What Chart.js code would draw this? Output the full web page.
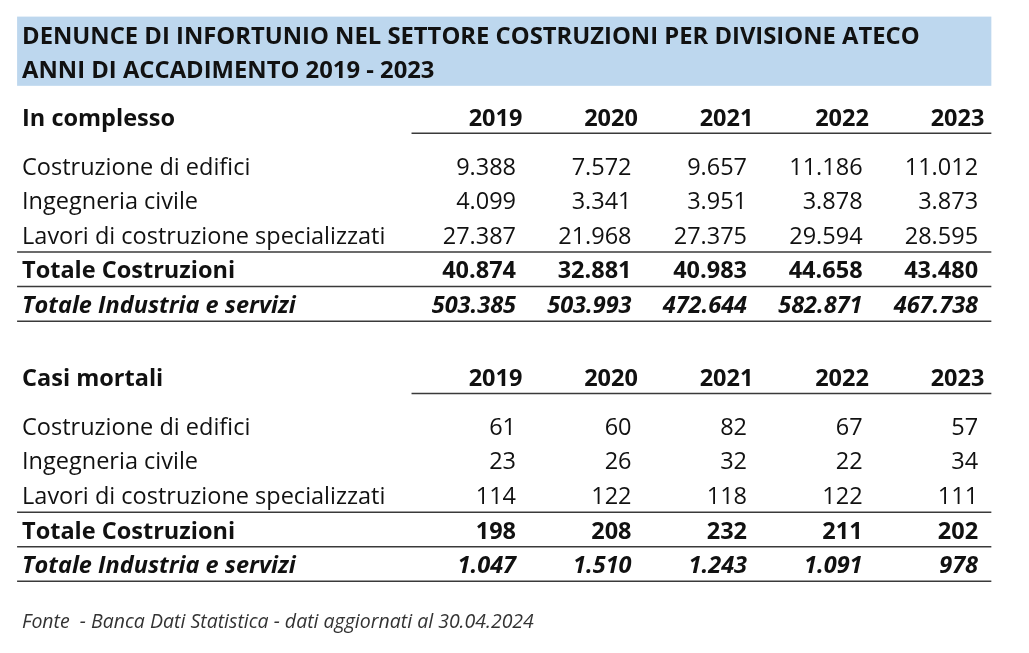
<!DOCTYPE html>
<html lang="it">
<head>
<meta charset="utf-8">
<title>Denunce di infortunio - costruzioni</title>
<script src="https://cdn.jsdelivr.net/npm/chart.js@4.4.0/dist/chart.umd.min.js"></script>
<style>
  body { margin: 0; background: #ffffff; }
  #wrap { width: 1029px; height: 653px; }
</style>
</head>
<body>
<div id="wrap"><canvas id="tabella" width="1029" height="653"></canvas></div>
<script>
const titleLines = ['DENUNCE DI INFORTUNIO NEL SETTORE COSTRUZIONI PER DIVISIONE ATECO', 'ANNI DI ACCADIMENTO 2019 - 2023'];
const years = ['2019', '2020', '2021', '2022', '2023'];
const sections = ['In complesso', 'Casi mortali'];
const rowLabels = ['Costruzione di edifici', 'Ingegneria civile', 'Lavori di costruzione specializzati', 'Totale Costruzioni', 'Totale Industria e servizi'];
const fonte = 'Fonte  - Banca Dati Statistica - dati aggiornati al 30.04.2024';

const complessoEdifici = [9388, 7572, 9657, 11186, 11012];
const complessoCivile = [4099, 3341, 3951, 3878, 3873];
const complessoSpecializzati = [27387, 21968, 27375, 29594, 28595];
const complessoTotCostruzioni = [40874, 32881, 40983, 44658, 43480];
const complessoTotIndustria = [503385, 503993, 472644, 582871, 467738];

const mortaliEdifici = [61, 60, 82, 67, 57];
const mortaliCivile = [23, 26, 32, 22, 34];
const mortaliSpecializzati = [114, 122, 118, 122, 111];
const mortaliTotCostruzioni = [198, 208, 232, 211, 202];
const mortaliTotIndustria = [1047, 1510, 1243, 1091, 978];

const sectionData = [
    [complessoEdifici, complessoCivile, complessoSpecializzati, complessoTotCostruzioni, complessoTotIndustria],
    [mortaliEdifici, mortaliCivile, mortaliSpecializzati, mortaliTotCostruzioni, mortaliTotIndustria]
];

// impaginazione: righe in "unità riga" sull'asse y, colonne sull'asse x
const SECTION_STEP = 7.52;
const HEADER_GAP = 1.4;
const FONT = '"Open Sans", "DejaVu Sans", sans-serif';
const SIZE = '23.5px ';
const TEXT_DY = 2.5; // il testo 'middle' di Open Sans sta un po' alto
const rowStyle = ['', '', '', 'bold ', 'italic bold '];

function rowSlot(s, r) {
    return s * SECTION_STEP + HEADER_GAP + r;
}

// formato italiano 9.388
function fmt(n) {
    return String(n).replace(/\B(?=(\d{3})+(?!\d))/g, '.');
}

// un dataset per riga, punti invisibili: il testo viene scritto sulla loro posizione
const datasets = [];
sectionData.forEach((rows, s) => {
    rows.forEach((values, r) => {
        datasets.push({
            label: sections[s] + ' - ' + rowLabels[r],
            data: values.map((v, j) => ({ x: j, y: rowSlot(s, r), v: v })),
            style: rowStyle[r],
            pointRadius: 0
        });
    });
});

function hline(ctx, x, y, x0, x1, v) {
    ctx.beginPath();
    ctx.moveTo(x.getPixelForValue(x0), y.getPixelForValue(v));
    ctx.lineTo(x.getPixelForValue(x1), y.getPixelForValue(v));
    ctx.stroke();
}

function text(ctx, str, px, py) {
    ctx.fillText(str, px, py + TEXT_DY);
}

const tablePlugin = {
    id: 'tablePlugin',
    beforeDatasetsDraw(chart) {
        const ctx = chart.ctx;
        const x = chart.scales.x;
        const y = chart.scales.y;
        const L = -4.32, R = 4.115, LABEL = -4.277;

        ctx.save();
        // fascia del titolo
        ctx.fillStyle = '#bdd7ee';
        const bTop = y.getPixelForValue(-2.9), bBot = y.getPixelForValue(-0.9);
        ctx.fillRect(x.getPixelForValue(L), bTop, x.getPixelForValue(R) - x.getPixelForValue(L), bBot - bTop);

        ctx.fillStyle = '#111111';
        ctx.textBaseline = 'middle';
        ctx.textAlign = 'left';
        ctx.font = 'bold 23.8px ' + FONT;
        text(ctx, titleLines[0], x.getPixelForValue(LABEL), y.getPixelForValue(-2.37));
        text(ctx, titleLines[1], x.getPixelForValue(LABEL), y.getPixelForValue(-1.39));

        ctx.strokeStyle = '#3a3a3a';
        ctx.lineWidth = 1.5;

        sections.forEach((name, s) => {
            const h = s * SECTION_STEP;
            ctx.fillStyle = '#111111';
            ctx.font = 'bold ' + SIZE + FONT;
            ctx.textAlign = 'left';
            text(ctx, name, x.getPixelForValue(LABEL), y.getPixelForValue(h));
            ctx.textAlign = 'right';
            years.forEach((yr, j) => {
                text(ctx, yr, x.getPixelForValue(j + 0.055), y.getPixelForValue(h));
            });
            hline(ctx, x, y, -0.905, R, h + 0.47);

            ctx.textAlign = 'left';
            rowLabels.forEach((lab, r) => {
                ctx.font = rowStyle[r] + SIZE + FONT;
                text(ctx, lab, x.getPixelForValue(LABEL), y.getPixelForValue(rowSlot(s, r)));
            });
            // linee sotto specializzati, totale costruzioni, totale industria
            [2, 3, 4].forEach(r => hline(ctx, x, y, L, R, rowSlot(s, r) + 0.5));
        });

        ctx.fillStyle = '#333333';
        ctx.textAlign = 'left';
        ctx.font = 'italic 19.5px ' + FONT;
        text(ctx, fonte, x.getPixelForValue(LABEL), y.getPixelForValue(14.54));
        ctx.restore();
    },
    afterDatasetsDraw(chart) {
        const ctx = chart.ctx;
        ctx.save();
        ctx.fillStyle = '#111111';
        ctx.textAlign = 'right';
        ctx.textBaseline = 'middle';
        chart.data.datasets.forEach((ds, i) => {
            const meta = chart.getDatasetMeta(i);
            ctx.font = ds.style + SIZE + FONT;
            meta.data.forEach((pt, j) => {
                text(ctx, fmt(ds.data[j].v), pt.x, pt.y);
            });
        });
        ctx.restore();
    }
};

const ctx = document.getElementById('tabella').getContext('2d');
const chart = new Chart(ctx, {
    type: 'scatter',
    data: { datasets },
    options: {
        responsive: false,
        animation: false,
        layout: { padding: 0 },
        scales: {
            x: { type: 'linear', display: false, min: -4.468, max: 4.441 },
            y: { type: 'linear', display: false, reverse: true, min: -3.38, max: 15.49 }
        },
        plugins: {
            legend: { display: false },
            tooltip: { enabled: false }
        }
    },
    plugins: [tablePlugin]
});
</script>
</body>
</html>
